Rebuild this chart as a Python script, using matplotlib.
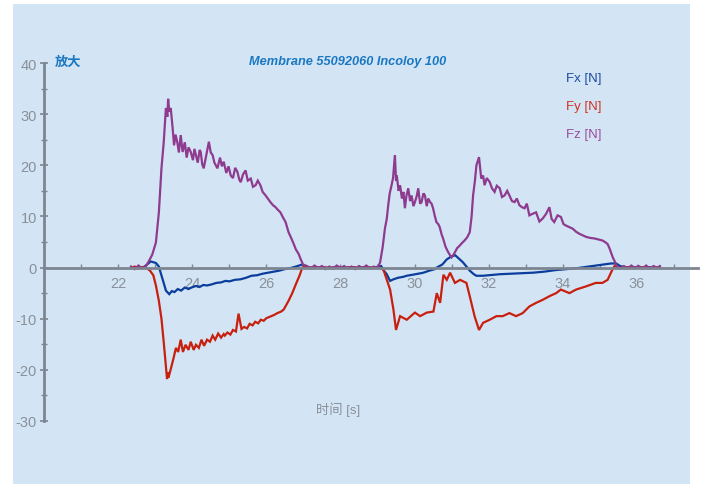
import matplotlib
matplotlib.use('Agg')
import matplotlib.pyplot as plt
from matplotlib.patches import Rectangle

plt.rcParams['font.family'] = ['Liberation Sans', 'Noto Sans CJK SC', 'DejaVu Sans']
plt.rcParams['axes.unicode_minus'] = False

# data
fx_t = [22.35, 22.45, 22.55, 22.65, 22.75, 22.88, 23.02, 23.10, 23.16, 23.23, 23.29, 23.38,
        23.45, 23.52, 23.61, 23.70, 23.80, 23.90, 23.98, 24.10, 24.20, 24.30, 24.40, 24.52,
        24.65, 24.78, 24.90, 25.00, 25.15, 25.30, 25.45, 25.60, 25.75, 25.90, 26.05, 26.20,
        26.35, 26.50, 26.65, 26.80, 26.97, 27.1, 27.3, 27.5, 27.7, 27.9, 28.1, 28.3, 28.5,
        28.7, 28.9, 29.10, 29.16, 29.25, 29.34, 29.43, 29.55, 29.70, 29.79, 29.95, 30.10,
        30.24, 30.40, 30.55, 30.60, 30.75, 30.87, 31.00, 31.10, 31.22, 31.31, 31.40, 31.49,
        31.60, 31.67, 31.85, 32.00, 32.30, 32.60, 32.90, 33.20, 33.50, 33.80, 34.10, 34.40,
        34.70, 35.00, 35.30, 35.44, 35.55, 35.7, 35.9, 36.1, 36.3, 36.5, 36.62]
fx_v = [0.1, -0.2, 0.2, -0.1, 0.4, 1.2, 0.9, 0.2, -1.3, -3.0, -4.5, -5.2,
        -4.6, -4.8, -4.2, -4.5, -3.9, -4.2, -3.9, -3.6, -3.8, -3.4, -3.5, -3.3,
        -3.0, -2.9, -2.6, -2.7, -2.4, -2.3, -2.0, -1.6, -1.5, -1.2, -1.0, -0.8,
        -0.6, -0.3, -0.1, 0.2, 0.6, 0.1, -0.1, 0.1, -0.1, 0.1, -0.1, 0.1, -0.1,
        0.1, -0.1, 0.3, -0.5, -1.3, -2.6, -2.3, -2.0, -1.8, -1.6, -1.4, -1.2,
        -1.0, -0.6, -0.3, 0.0, 0.6, 1.6, 2.2, 2.4, 1.6, 1.0, 0.2, -0.6,
        -1.3, -1.6, -1.6, -1.5, -1.3, -1.2, -1.1, -1.0, -0.8, -0.5, -0.3, -0.1,
        0.2, 0.5, 0.8, 0.8, 0.3, 0.0, 0.1, -0.1, 0.1, -0.1, 0.1]

fy_t = [22.35, 22.45, 22.55, 22.65, 22.75, 22.85, 22.95, 23.02, 23.10, 23.17, 23.23, 23.28,
        23.32, 23.34, 23.36, 23.43, 23.50, 23.56, 23.62, 23.69, 23.75, 23.82, 23.90, 23.96,
        24.04, 24.10, 24.18, 24.25, 24.32, 24.40, 24.48, 24.55, 24.62, 24.70, 24.78, 24.85,
        24.88, 24.95, 25.03, 25.10, 25.18, 25.25, 25.33, 25.40, 25.48, 25.55, 25.63, 25.70,
        25.78, 25.85, 25.93, 26.00, 26.10, 26.20, 26.30, 26.40, 26.47, 26.60, 26.70, 26.80,
        26.90, 26.97, 27.1, 27.3, 27.5, 27.7, 27.9, 28.1, 28.3, 28.5, 28.7, 28.9, 29.05,
        29.16, 29.34, 29.43, 29.50, 29.61, 29.79, 30.01, 30.15, 30.33, 30.51, 30.60, 30.69,
        30.78, 30.87, 30.96, 31.09, 31.23, 31.40, 31.49, 31.62, 31.74, 31.85, 32.03, 32.21,
        32.38, 32.56, 32.74, 32.92, 33.10, 33.28, 33.46, 33.64, 33.82, 33.95, 34.18, 34.36,
        34.62, 34.89, 35.07, 35.21, 35.34, 35.40, 35.55, 35.7, 35.9, 36.1, 36.3, 36.5, 36.62]
fy_v = [-0.1, 0.2, -0.2, 0.1, -0.1, -0.5, -1.5, -3.5, -6.5, -10.0, -14.5, -18.5,
        -21.8, -20.5, -21.5, -19.6, -17.6, -15.7, -16.5, -14.1, -16.5, -15.1, -16.1, -14.5,
        -16.1, -15.1, -15.7, -14.1, -15.3, -14.1, -14.5, -13.3, -14.1, -12.9, -13.7, -13.0,
        -13.3, -12.7, -13.1, -12.2, -12.5, -9.0, -12.0, -11.6, -11.9, -11.0, -11.3, -10.6,
        -10.9, -10.2, -10.4, -9.9, -9.6, -9.3, -8.9, -8.6, -8.2, -6.5, -5.0, -3.2,
        -1.5, 0.0, 0.1, -0.1, 0.1, -0.1, 0.1, -0.1, 0.1, -0.1, 0.1, -0.1, 0.0,
        -0.4, -4.3, -8.2, -12.2, -9.5, -10.2, -8.8, -9.5, -8.8, -8.6, -5.0, -6.9,
        -1.4, -2.4, -1.0, -3.0, -2.4, -3.0, -5.6, -9.5, -12.2, -10.8, -10.2, -9.5,
        -9.5, -8.9, -9.5, -8.9, -7.6, -6.9, -6.3, -5.6, -5.0, -4.3, -5.0, -4.3,
        -3.7, -3.0, -3.0, -2.4, -0.4, 0.3, -0.1, 0.1, -0.1, 0.1, -0.1, 0.1, -0.1]

fz_t = [22.35, 22.45, 22.55, 22.65, 22.75, 22.81, 22.92, 23.02, 23.10, 23.17, 23.23, 23.29,
        23.33, 23.35, 23.38, 23.42, 23.47, 23.51, 23.55, 23.60, 23.64, 23.69, 23.74, 23.80,
        23.85, 23.90, 23.96, 24.02, 24.06, 24.10, 24.15, 24.20, 24.23, 24.27, 24.31, 24.38,
        24.45, 24.50, 24.55, 24.60, 24.68, 24.75, 24.80, 24.85, 24.92, 24.98, 25.04, 25.10,
        25.16, 25.22, 25.27, 25.31, 25.37, 25.44, 25.50, 25.58, 25.64, 25.71, 25.77, 25.84,
        25.90, 25.98, 26.04, 26.11, 26.18, 26.25, 26.31, 26.38, 26.45, 26.52, 26.60, 26.67,
        26.74, 26.80, 26.87, 26.93, 26.99, 27.1, 27.2, 27.3, 27.4, 27.5, 27.6, 27.7, 27.8,
        27.9, 28.0, 28.1, 28.2, 28.3, 28.4, 28.5, 28.6, 28.7, 28.8, 28.9, 29.0, 29.07,
        29.14, 29.20, 29.25, 29.29, 29.33, 29.38, 29.42, 29.47, 29.50, 29.52, 29.57, 29.61,
        29.66, 29.70, 29.74, 29.78, 29.83, 29.88, 29.92, 29.97, 30.01, 30.06, 30.10, 30.15,
        30.19, 30.24, 30.28, 30.33, 30.37, 30.42, 30.46, 30.50, 30.55, 30.59, 30.64, 30.68,
        30.73, 30.77, 30.84, 30.91, 30.96, 31.00, 31.05, 31.09, 31.15, 31.22, 31.28, 31.35,
        31.42, 31.49, 31.54, 31.58, 31.63, 31.67, 31.74, 31.77, 31.80, 31.85, 31.89, 31.95,
        32.03, 32.09, 32.16, 32.22, 32.30, 32.36, 32.43, 32.50, 32.56, 32.63, 32.70, 32.76,
        32.83, 32.90, 32.97, 33.03, 33.10, 33.18, 33.28, 33.37, 33.46, 33.55, 33.64, 33.70,
        33.77, 33.86, 33.95, 34.02, 34.09, 34.18, 34.27, 34.36, 34.45, 34.54, 34.63, 34.74,
        34.85, 34.96, 35.07, 35.14, 35.21, 35.26, 35.30, 35.35, 35.39, 35.45, 35.55, 35.65,
        35.75, 35.85, 35.95, 36.05, 36.15, 36.25, 36.35, 36.45, 36.55, 36.62]
fz_v = [0.2, -0.3, 0.4, -0.2, 0.3, 1.0, 2.5, 4.9, 10.8, 19.4, 24.4, 31.2,
        29.5, 33.0, 30.5, 31.2, 27.4, 23.9, 26.0, 24.4, 22.5, 25.9, 22.6, 24.5,
        21.5, 23.5, 22.6, 21.0, 23.2, 22.0, 20.5, 23.0, 22.6, 20.2, 19.4, 22.0,
        24.6, 22.5, 22.0, 20.5, 19.4, 21.5, 19.8, 20.7, 18.5, 19.8, 18.0, 17.5,
        19.5, 18.7, 17.2, 16.7, 18.2, 19.0, 17.0, 17.4, 15.8, 16.1, 17.0, 16.1,
        14.8, 14.1, 13.5, 12.8, 12.2, 11.8, 11.3, 10.8, 9.8, 8.9, 6.9, 5.8,
        4.6, 3.5, 2.7, 1.6, 0.6, 0.3, -0.2, 0.4, -0.1, 0.3, -0.3, 0.2, -0.2,
        0.4, -0.1, 0.3, -0.2, 0.2, -0.3, 0.3, -0.1, 0.4, -0.2, 0.2, -0.1, 1.0,
        4.0, 7.6, 9.5, 12.2, 14.5, 16.1, 17.5, 22.0, 17.0, 18.0, 15.0, 16.1,
        13.5, 14.8, 11.6, 14.0, 15.5, 13.0, 14.1, 12.0, 12.8, 14.0, 15.5, 12.5,
        12.8, 14.5, 14.1, 12.0, 13.5, 12.8, 12.5, 11.6, 10.0, 8.9, 8.5, 7.9,
        6.5, 5.7, 4.0, 3.0, 2.4, 2.0, 2.5, 3.0, 3.8, 4.3, 4.8, 5.3,
        5.9, 6.9, 10.0, 14.1, 17.0, 20.0, 21.6, 19.5, 17.4, 18.0, 16.1, 17.5,
        16.7, 15.5, 14.8, 16.0, 15.5, 13.8, 14.1, 15.0, 14.1, 13.0, 12.8, 13.5,
        12.2, 11.8, 11.6, 12.5, 10.2, 10.5, 10.8, 9.0, 9.6, 10.5, 11.8, 9.5,
        8.9, 10.2, 9.9, 8.5, 8.2, 7.9, 7.6, 7.0, 6.6, 6.3, 6.0, 5.8,
        5.7, 5.5, 5.3, 5.0, 4.6, 3.8, 3.0, 2.0, 1.4, 0.4, -0.2, 0.3,
        -0.2, 0.4, -0.1, 0.3, -0.2, 0.4, -0.2, 0.3, -0.1, 0.3]

series_names = ['Fx [N]', 'Fy [N]', 'Fz [N]']
line_colors = ['#0b3d9c', '#c8200f', '#8e3a8f']
label_colors = ['#1d4a9f', '#cf3322', '#9a4c9c']

x_ticks = [22, 24, 26, 28, 30, 32, 34, 36]
y_ticks = [-30, -20, -10, 0, 10, 20, 30, 40]

W, H = 701, 485
fig = plt.figure(figsize=(W / 100, H / 100), dpi=100, facecolor='white')
fig.patches.append(Rectangle((13 / W, 0), 677 / W, 1 - 5 / H, transform=fig.transFigure,
                             facecolor='#d3e5f5', edgecolor='none', zorder=-10))

ax = fig.add_axes([44 / W, (H - 422) / H, 654 / W, 358 / H])
ax.set_facecolor('none')

for t, v, c in zip([fx_t, fy_t, fz_t], [fx_v, fy_v, fz_v], line_colors):
    ax.plot(t, v, color=c, lw=1.6, solid_joinstyle='miter')

ax.set_xlim(20, 37.65)
ax.set_ylim(-30, 40)

axis_gray = '#7d8590'
tick_gray = '#8a9099'
for s in ['top', 'right']:
    ax.spines[s].set_visible(False)
ax.spines['left'].set_color(axis_gray)
ax.spines['left'].set_linewidth(2)
ax.spines['bottom'].set_position(('data', 0))
ax.spines['bottom'].set_color(axis_gray)
ax.spines['bottom'].set_linewidth(2)
ax.spines['bottom'].set_zorder(3)

ax.set_xticks(x_ticks)
ax.set_xticks(range(21, 38), minor=True)
ax.set_yticks(y_ticks)
ax.set_yticks(range(-25, 40, 10), minor=True)
ax.tick_params(axis='x', which='both', direction='in', length=3, width=1, color=axis_gray,
               labelcolor=tick_gray, labelsize=10.5, pad=6)
ax.tick_params(axis='y', which='major', direction='inout', length=6, width=1.2, color=axis_gray,
               labelcolor=tick_gray, labelsize=10.5, pad=2)
ax.tick_params(axis='y', which='minor', direction='inout', length=4, width=1, color=axis_gray)

fig.text(348 / W, 1 - 62 / H, 'Membrane 55092060 Incoloy 100', color='#1a78c2',
         fontsize=9.2, fontweight='bold', fontstyle='italic', ha='center', va='center')
fig.text(55 / W, 1 - 62 / H, '放大', color='#1a78c2', fontsize=9.5, fontweight='bold',
         family=['Noto Sans CJK SC'], ha='left', va='center')
for i, (name, c) in enumerate(zip(series_names, label_colors)):
    fig.text(566 / W, 1 - (79 + 28 * i) / H, name, color=c, fontsize=9.5, ha='left', va='center')
fig.text(338 / W, 1 - 410 / H, '时间 [s]', color=tick_gray, fontsize=9.5, ha='center', va='center')

fig.savefig('out.png', dpi=100, facecolor='white')
